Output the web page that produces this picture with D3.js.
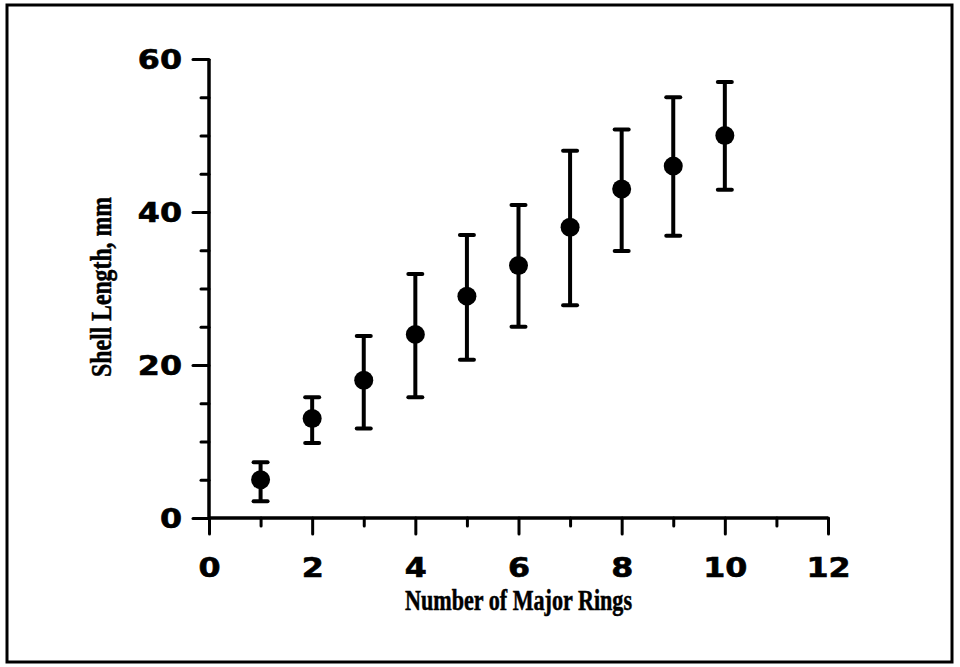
<!DOCTYPE html>
<html>
<head>
<meta charset="utf-8">
<script src="https://cdn.jsdelivr.net/npm/d3@7"></script>
<style>
  html, body { margin: 0; padding: 0; background: #fff; }
  svg { display: block; }
</style>
</head>
<body>
<svg id="chart" width="960" height="667"></svg>
<script>
// ---- data ----
const rings = [1, 2, 3, 4, 5, 6, 7, 8, 9, 10];
const meanLength = [5, 13, 18, 24, 29, 33, 38, 43, 46, 50];
const lowLength  = [2.2, 9.8, 11.7, 15.8, 20.7, 25, 27.8, 34.9, 36.9, 42.9];
const highLength = [7.3, 15.8, 23.8, 31.9, 37, 40.9, 48, 50.8, 55, 57];
const xMajorTicks = [0, 2, 4, 6, 8, 10, 12];
const xMinorTicks = [1, 3, 5, 7, 9, 11];
const yMajorTicks = [0, 20, 40, 60];
const yMinorTicks = [5, 10, 15, 25, 30, 35, 45, 50, 55];
const xTitle = "Number of Major Rings";
const yTitle = "Shell Length, mm";

const svg = d3.select("#chart");

// frame
svg.append("rect").attr("x", 7).attr("y", 5).attr("width", 945).attr("height", 657)
  .attr("fill", "none").attr("stroke", "#000").attr("stroke-width", 3);

const x = d3.scaleLinear().domain([0, 12]).range([209, 828]);
const y = d3.scaleLinear().domain([0, 60]).range([518, 59]);

const tickFont = "'DejaVu Sans', sans-serif";

// x axis
const gxMinor = svg.append("g").attr("transform", `translate(0,${y(0)})`)
  .call(d3.axisBottom(x).tickValues(xMinorTicks).tickSize(8).tickFormat(""));
const gx = svg.append("g").attr("transform", `translate(0,${y(0)})`)
  .call(d3.axisBottom(x).tickValues(xMajorTicks).tickSize(16).tickPadding(0).tickFormat(d3.format("d")));
// y axis
const gyMinor = svg.append("g").attr("transform", `translate(${x(0)},0)`)
  .call(d3.axisLeft(y).tickValues(yMinorTicks).tickSize(8).tickFormat(""));
const gy = svg.append("g").attr("transform", `translate(${x(0)},0)`)
  .call(d3.axisLeft(y).tickValues(yMajorTicks).tickSize(16).tickFormat(d3.format("d")));

[gx, gy, gxMinor, gyMinor].forEach(g => {
  g.selectAll("path.domain").attr("d", null);
  g.selectAll(".tick line").attr("stroke", "#000").attr("stroke-width", 3).attr("stroke-linecap", "round");
});
// axis lines
svg.append("line").attr("x1", x(0)).attr("x2", x(12)).attr("y1", y(0)).attr("y2", y(0))
  .attr("stroke", "#000").attr("stroke-width", 3.5);
svg.append("line").attr("x1", x(0)).attr("x2", x(0)).attr("y1", y(0)).attr("y2", y(60))
  .attr("stroke", "#000").attr("stroke-width", 3.5);

const sx = 1.22;
gx.selectAll(".tick text")
  .attr("font-family", tickFont).attr("font-weight", "bold").attr("font-size", 26)
  .attr("fill", "#000").attr("stroke", "#000").attr("stroke-width", 0.6)
  .attr("dy", null).attr("y", 59)
  .attr("transform", `scale(${sx},1)`);
gy.selectAll(".tick text")
  .attr("font-family", tickFont).attr("font-weight", "bold").attr("font-size", 26)
  .attr("fill", "#000").attr("stroke", "#000").attr("stroke-width", 0.6)
  .attr("dy", null).attr("y", 9).attr("x", -27 / sx)
  .attr("transform", `scale(${sx},1)`);

// titles (tall condensed serif bold)
const titleFont = "'Liberation Serif', 'Times New Roman', serif";
svg.append("text")
  .attr("transform", `translate(${(x(0) + x(12)) / 2},610) scale(1,1.3)`)
  .attr("text-anchor", "middle")
  .attr("font-family", titleFont).attr("font-weight", "bold").attr("font-size", 22)
  .attr("stroke", "#000").attr("stroke-width", 0.4)
  .attr("textLength", 227).attr("lengthAdjust", "spacingAndGlyphs")
  .text(xTitle);
svg.append("text")
  .attr("transform", `translate(111,${287}) rotate(-90) scale(1,1.3)`)
  .attr("text-anchor", "middle")
  .attr("font-family", titleFont).attr("font-weight", "bold").attr("font-size", 22)
  .attr("stroke", "#000").attr("stroke-width", 0.4)
  .attr("textLength", 180).attr("lengthAdjust", "spacingAndGlyphs")
  .text(yTitle);

// error bars
const data = rings.map((r, i) => ({ r, m: meanLength[i], lo: lowLength[i], hi: highLength[i] }));
const g = svg.append("g");
g.selectAll("line.err").data(data).join("line").attr("class", "err")
  .attr("x1", d => x(d.r)).attr("x2", d => x(d.r))
  .attr("y1", d => y(d.lo)).attr("y2", d => y(d.hi))
  .attr("stroke", "#000").attr("stroke-width", 4);
const capW = 7;
g.selectAll("line.capHi").data(data).join("line").attr("class", "capHi")
  .attr("x1", d => x(d.r) - capW).attr("x2", d => x(d.r) + capW)
  .attr("y1", d => y(d.hi)).attr("y2", d => y(d.hi))
  .attr("stroke", "#000").attr("stroke-width", 4).attr("stroke-linecap", "round");
g.selectAll("line.capLo").data(data).join("line").attr("class", "capLo")
  .attr("x1", d => x(d.r) - capW).attr("x2", d => x(d.r) + capW)
  .attr("y1", d => y(d.lo)).attr("y2", d => y(d.lo))
  .attr("stroke", "#000").attr("stroke-width", 4).attr("stroke-linecap", "round");
g.selectAll("circle").data(data).join("circle")
  .attr("cx", d => x(d.r)).attr("cy", d => y(d.m)).attr("r", 9.5)
  .attr("fill", "#000");
</script>
</body>
</html>
